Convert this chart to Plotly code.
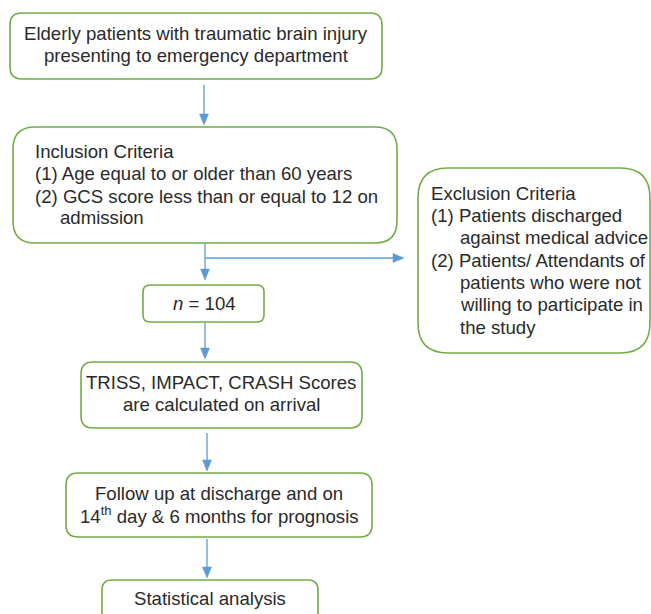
import plotly.graph_objects as go

W, H = 651, 614
GREEN = "#70ad47"
BLUE = "#5b9bd5"
TEXT = "#2a2a2a"
FONT = "Liberation Sans, Arial, sans-serif"
FS = 18.6

# Boxes: (left, top, right, bottom, corner radius)
box_names = ["start", "inclusion", "exclusion", "n", "scores", "follow", "stats"]
box_geom = [
    (10, 13, 382, 79, 12),
    (13, 127, 397, 243, 22),
    (418, 168, 650, 353, 30),
    (143, 285, 264, 322, 7),
    (81, 362, 362, 428, 12),
    (66, 473, 372, 537, 12),
    (102, 580, 318, 630, 10),
]

# Text lines
start_lines = ["Elderly patients with traumatic brain injury", "presenting to emergency department"]
inclusion_lines = ["Inclusion Criteria", "(1) Age equal to or older than 60 years",
                   "(2) GCS score less than or equal to 12 on", "admission"]
exclusion_lines = ["Exclusion Criteria", "(1) Patients discharged", "against medical advice",
                   "(2) Patients/ Attendants of", "patients who were not",
                   "willing to participate in", "the study"]
n_label = "<i>n</i> = 104"
scores_lines = ["TRISS, IMPACT, CRASH Scores", "are calculated on arrival"]
follow_lines = ["Follow up at discharge and on", "14<sup>th</sup> day &amp; 6 months for prognosis"]
stats_lines = ["Statistical analysis"]

text_items = []
for t, y in zip(start_lines, [33, 55]):
    text_items.append((t, 196, y, "center"))
for t, x, y in zip(inclusion_lines, [33, 33, 33, 58], [151, 173, 196, 217]):
    text_items.append((t, x, y, "left"))
for t, x, y in zip(exclusion_lines, [429, 429, 458, 429, 458, 458, 458],
                   [193, 215, 237, 260, 282, 304, 327]):
    text_items.append((t, x, y, "left"))
text_items.append((n_label, 204, 303, "center"))
for t, y in zip(scores_lines, [382, 404]):
    text_items.append((t, 221, y, "center"))
for t, y in zip(follow_lines, [493, 515]):
    text_items.append((t, 219, y, "center"))
for t, y in zip(stats_lines, [598]):
    text_items.append((t, 210, y, "center"))

# Arrows: (x0, y0, x1, y1) tip at (x1, y1)
arrows = [
    (204, 85, 204, 125),
    (205, 243, 205, 280),
    (205, 258, 404, 258),
    (205, 323, 205, 359),
    (207, 433, 207, 471),
    (207, 539, 207, 578),
]


def rounded_rect(l, t, r, b, rad):
    return (f"M {l+rad},{t} L {r-rad},{t} Q {r},{t} {r},{t+rad} "
            f"L {r},{b-rad} Q {r},{b} {r-rad},{b} L {l+rad},{b} "
            f"Q {l},{b} {l},{b-rad} L {l},{t+rad} Q {l},{t} {l+rad},{t} Z")


shapes = []
for (l, t, r, b, rad) in box_geom:
    shapes.append(dict(type="path", path=rounded_rect(l, t, r, b, rad), xref="x", yref="y",
                       line=dict(color=GREEN, width=1.6), fillcolor="white", layer="above"))

HL, HW = 11, 4.5
for (x0, y0, x1, y1) in arrows:
    dx, dy = x1 - x0, y1 - y0
    L = (dx * dx + dy * dy) ** 0.5
    ux, uy = dx / L, dy / L
    bx, by = x1 - ux * HL, y1 - uy * HL
    shapes.append(dict(type="line", x0=x0, y0=y0, x1=bx, y1=by, xref="x", yref="y",
                       line=dict(color=BLUE, width=1.3), layer="above"))
    px, py = -uy * HW, ux * HW
    shapes.append(dict(type="path", xref="x", yref="y",
                       path=f"M {x1},{y1} L {bx+px},{by+py} L {bx-px},{by-py} Z",
                       fillcolor=BLUE, line=dict(color=BLUE, width=0.5), layer="above"))

annotations = []
for (t, x, y, anchor) in text_items:
    annotations.append(dict(text=t, x=x, y=y, xref="x", yref="y", showarrow=False,
                            xanchor=anchor, yanchor="middle",
                            font=dict(family=FONT, size=FS, color=TEXT)))

fig = go.Figure()
fig.add_trace(go.Scatter(x=[0, W], y=[0, H], mode="markers", marker=dict(opacity=0),
                         hoverinfo="skip", showlegend=False))
fig.update_layout(
    width=W, height=H, margin=dict(l=0, r=0, t=0, b=0),
    paper_bgcolor="white", plot_bgcolor="white",
    xaxis=dict(range=[0, W], visible=False, fixedrange=True),
    yaxis=dict(range=[H, 0], visible=False, fixedrange=True),
    shapes=shapes, annotations=annotations, showlegend=False,
)
fig.write_html("out.html", config={"displayModeBar": False},
               post_script="document.body.style.margin='0';document.body.style.overflow='hidden';")
